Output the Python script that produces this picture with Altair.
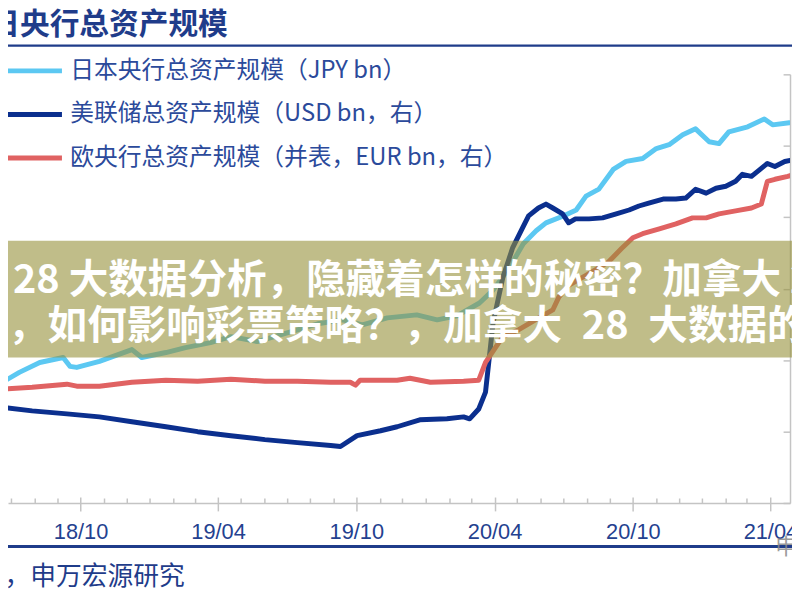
import altair as alt
import pandas as pd

# ---------------- data ----------------
boj_dates = ["2018-06-16", "2018-06-22", "2018-07-12", "2018-08-08", "2018-09-08", "2018-09-17",
             "2018-09-26", "2018-10-26", "2018-12-08", "2018-12-21", "2019-01-22", "2019-02-17",
             "2019-03-22", "2019-04-18", "2019-05-23", "2019-06-19", "2019-07-15", "2019-08-11",
             "2019-09-13", "2019-10-09", "2019-11-11", "2019-12-20", "2020-01-16", "2020-02-11",
             "2020-03-12", "2020-03-30", "2020-04-20", "2020-05-09", "2020-05-26", "2020-06-08",
             "2020-07-01", "2020-07-18", "2020-07-31", "2020-08-17", "2020-09-05", "2020-09-22",
             "2020-10-14", "2020-11-01", "2020-11-18", "2020-12-06", "2020-12-23", "2021-01-10",
             "2021-01-23", "2021-02-05", "2021-03-02", "2021-03-24", "2021-04-04", "2021-04-26"]
boj_values = [549800, 540900, 547500, 554900, 558600, 552000,
              551200, 555700, 564500, 558600, 562300, 566000,
              569700, 574200, 570500, 574900, 579300, 583800,
              586700, 583000, 588200, 590400, 586700, 589700,
              599300, 608900, 625100, 643600, 653200, 659100,
              664300, 668700, 679100, 684300, 699000, 705000,
              707200, 714600, 717500, 724900, 729300, 719700,
              718300, 727100, 730800, 736700, 732300, 733800]

fed_dates = ["2018-06-16", "2018-07-29", "2018-09-13", "2018-10-26", "2018-12-08", "2019-01-22",
             "2019-03-05", "2019-04-18", "2019-06-02", "2019-07-15", "2019-08-28", "2019-09-10",
             "2019-10-02", "2019-11-02", "2019-11-24", "2019-12-24", "2020-01-29", "2020-02-20",
             "2020-02-28", "2020-03-11", "2020-03-20", "2020-03-30", "2020-04-12", "2020-04-25",
             "2020-05-08", "2020-05-16", "2020-05-29", "2020-06-08", "2020-06-17", "2020-06-30",
             "2020-07-08", "2020-07-17", "2020-08-04", "2020-08-22", "2020-09-09", "2020-09-26",
             "2020-10-09", "2020-10-22", "2020-11-10", "2020-11-27", "2020-12-10", "2020-12-23",
             "2021-01-06", "2021-01-19", "2021-02-01", "2021-02-14", "2021-02-23", "2021-03-07",
             "2021-03-20", "2021-03-28", "2021-04-07", "2021-04-20", "2021-05-03"]
fed_values = [4344, 4289, 4247, 4205, 4136, 4067,
              3998, 3942, 3887, 3845, 3804, 3790,
              3942, 4011, 4067, 4164, 4178, 4205,
              4178, 4316, 4552, 5522, 6159, 6575,
              6852, 7018, 7129, 7184, 7129, 7046,
              6922, 6977, 6977, 6991, 7046, 7101,
              7157, 7198, 7254, 7254, 7268, 7392,
              7337, 7406, 7434, 7503, 7600, 7572,
              7683, 7753, 7711, 7780, 7808]

ecb_dates = ["2018-06-16", "2018-07-29", "2018-09-13", "2018-09-26", "2018-10-26", "2018-12-08",
             "2019-01-22", "2019-03-05", "2019-04-18", "2019-06-02", "2019-07-15", "2019-08-28",
             "2019-09-23", "2019-09-30", "2019-10-06", "2019-11-24", "2019-12-11", "2020-01-07",
             "2020-02-20", "2020-03-11", "2020-03-20", "2020-04-03", "2020-04-12", "2020-05-03",
             "2020-05-25", "2020-06-17", "2020-06-25", "2020-07-08", "2020-07-31", "2020-08-29",
             "2020-09-16", "2020-10-01", "2020-10-14", "2020-11-05", "2020-11-27", "2020-12-19",
             "2021-01-06", "2021-01-23", "2021-02-14", "2021-03-07", "2021-03-20", "2021-03-28",
             "2021-04-07", "2021-04-24", "2021-05-03"]
ecb_values = [4593, 4621, 4663, 4635, 4635, 4690,
              4718, 4704, 4732, 4704, 4704, 4690,
              4690, 4649, 4718, 4718, 4746, 4690,
              4704, 4718, 4968, 5189, 5328, 5425,
              5563, 5702, 5882, 6048, 6187, 6367,
              6561, 6713, 6769, 6838, 6907, 6991,
              6991, 7046, 7088, 7129, 7184, 7503,
              7531, 7572, 7600]

series_names = ["日本央行总资产规模（JPY bn）",
                "美联储总资产规模（USD bn，右）",
                "欧央行总资产规模（并表，EUR bn，右）"]
series_colors = ["#5CC8F2", "#0B2F8E", "#E06262"]

right_ticks = [3000, 4000, 5000, 6000, 7000, 8000, 9000]

title_text = "日央行总资产规模"
source_text = "C，申万宏源研究"
watermark_text = "申万宏源研究"
banner_rows = ["大 28 大数据分析，隐藏着怎样的秘密？加拿大 28 大数据",
               "析，如何影响彩票策略？，加拿大\u200228\u2002大数据的秘密"]

# ---------------- tables ----------------
left_df = pd.DataFrame({"date": boj_dates, "value": boj_values, "series": series_names[0]})
right_df = pd.concat([
    pd.DataFrame({"date": fed_dates, "value": fed_values, "series": series_names[1]}),
    pd.DataFrame({"date": ecb_dates, "value": ecb_values, "series": series_names[2]}),
])

NAVY = "#1F3C8A"
GRAY = "#C4C4C4"
W, H = 790, 433

major = "(utcmonth(datum.value) == 3 || utcmonth(datum.value) == 9)"
x_scale = alt.Scale(type="utc",
                    domain=[alt.DateTime(year=2018, month=6, date=27, utc=True),
                            alt.DateTime(year=2021, month=4, date=27, utc=True)])

x_enc = alt.X(
    "date:T", scale=x_scale,
    axis=alt.Axis(
        title=None, grid=False,
        tickCount={"interval": "month", "step": 1},
        labelExpr=major + " ? utcFormat(datum.value, '%y/%m') : ''",
        labelOverlap=False, labelFlush=False,
        labelFont="Liberation Sans", labelFontSize=22, labelColor="#24418F",
        labelPadding=11,
        tickColor=GRAY, tickWidth=1.5,
        tickSize={"condition": {"test": major, "value": 8}, "value": 0},
        domainColor=GRAY, domainWidth=1.5,
    ),
)

color_enc = alt.Color(
    "series:N",
    scale=alt.Scale(domain=series_names, range=series_colors),
    legend=alt.Legend(
        title=None, orient="none", legendX=-6, legendY=-35,
        symbolType="stroke", symbolSize=3364, symbolStrokeWidth=5,
        labelFont="Noto Sans CJK SC", labelFontSize=24, labelColor="#2B4A9B",
        labelOffset=6, labelLimit=0, rowPadding=-1.5, padding=0,
    ),
)

line_style = dict(strokeWidth=5, strokeJoin="round", strokeCap="round", clip=True)

boj_line = alt.Chart(left_df).mark_line(**line_style).encode(
    x=x_enc,
    y=alt.Y("value:Q", scale=alt.Scale(domain=[450000, 770000]), axis=None),
    color=color_enc,
)

right_lines = alt.Chart(right_df).mark_line(**line_style).encode(
    x=x_enc,
    y=alt.Y("value:Q", scale=alt.Scale(domain=[3000, 9000]),
            axis=alt.Axis(orient="left", offset=-W, labels=False, title=None, grid=False,
                          values=right_ticks, tickSize=7, tickColor=GRAY, tickWidth=1.5,
                          domainColor=GRAY, domainWidth=1.5)),
    color=color_enc,
)

lines = alt.layer(boj_line, right_lines).resolve_scale(y="independent")

# upward half of the x ticks (an extra axis laid on the bottom edge)
upper_ticks = alt.Chart(left_df).mark_point(opacity=0).encode(
    x=alt.X("date:T", scale=x_scale,
            axis=alt.Axis(orient="top", offset=-H, title=None, grid=False, labels=False,
                          domain=False, tickCount={"interval": "month", "step": 1},
                          tickColor=GRAY, tickWidth=1.5,
                          tickSize={"condition": {"test": major, "value": 6}, "value": 5})),
)

one = alt.Data(values=[{}])

title = alt.Chart(one).mark_text(
    text=title_text, font="Noto Sans CJK SC", fontSize=30, fontWeight="bold",
    color=NAVY, align="right", baseline="middle",
).encode(x=alt.value(222), y=alt.value(-50))

top_rule = alt.Chart(one).mark_rule(color=NAVY, strokeWidth=2.5).encode(
    x=alt.value(-10), x2=alt.value(800), y=alt.value(-29))

bottom_rule = alt.Chart(one).mark_rule(color=NAVY, strokeWidth=3).encode(
    x=alt.value(-10), x2=alt.value(800), y=alt.value(477))

source = alt.Chart(one).mark_text(
    text=source_text, font="Noto Sans CJK SC", fontSize=26, color=NAVY,
    align="left", baseline="middle",
).encode(x=alt.value(-20), y=alt.value(508))

watermark = alt.Chart(one).mark_text(
    text=watermark_text, font="Noto Sans CJK SC", fontSize=22, color="#8A8A8A",
    align="left", baseline="middle", opacity=0.85,
).encode(x=alt.value(775), y=alt.value(478))

banner = alt.Chart(one).mark_rect(color="#96913A", opacity=0.6).encode(
    x=alt.value(-10), x2=alt.value(800), y=alt.value(168), y2=alt.value(286))

banner_t1 = alt.Chart(one).mark_text(
    text=banner_rows[0], font="Noto Sans CJK SC", fontSize=40, fontWeight="bold",
    color="white", align="left", baseline="middle",
).encode(x=alt.value(-44), y=alt.value(209))

banner_t2 = alt.Chart(one).mark_text(
    text=banner_rows[1], font="Noto Sans CJK SC", fontSize=40, fontWeight="bold",
    color="white", align="left", baseline="middle",
).encode(x=alt.value(-40), y=alt.value(255))

chart = alt.layer(
    lines, upper_ticks, banner, banner_t1, banner_t2, title, top_rule, bottom_rule,
    source, watermark
).resolve_axis(x="independent").properties(
    width=W, height=H,
    padding={"left": 0, "top": 64, "right": 2, "bottom": 95},
    autosize=alt.AutoSizeParams(type="none"),
    background="white",
).configure_view(stroke=None)

chart.save("out.html", embed_options={"renderer": "svg", "actions": False})
